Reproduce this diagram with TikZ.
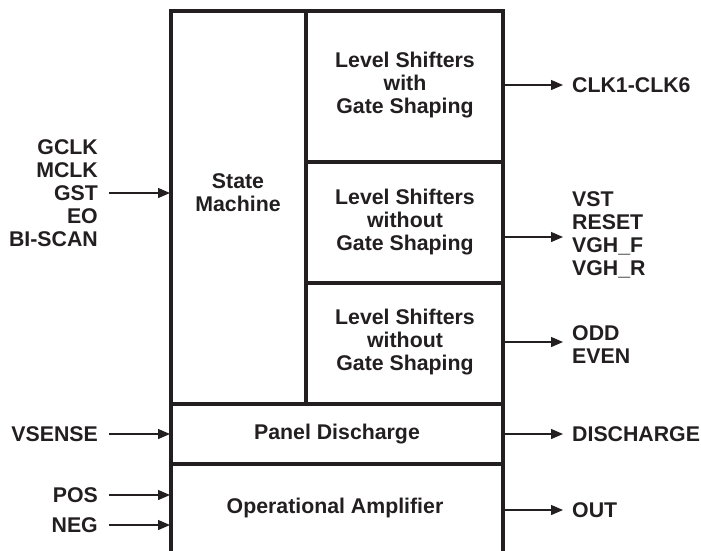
\documentclass[tikz,border=0pt]{standalone}
\usepackage{fontspec}
\setmainfont{Liberation Sans}
\usetikzlibrary{arrows.meta}
\definecolor{ink}{HTML}{231F20}
\tikzset{
  frame/.style={draw=ink, line width=4pt},
  arr/.style={draw=ink, line width=1.3pt, -{Triangle[length=12pt,width=10pt]}},
  txt/.style={inner sep=0pt, text=ink, font=\fontsize{21.3}{23}\selectfont\bfseries},
}
\begin{document}
\begin{tikzpicture}[x=1pt,y=-1pt]
\useasboundingbox (0,0) rectangle (701,550);
% frame
\draw[frame] (171,556) -- (171,11) -- (503,11) -- (503,556);
\draw[frame] (306,11) -- (306,404);
\draw[frame] (306,162) -- (503,162);
\draw[frame] (306,283) -- (503,283);
\draw[frame] (171,404) -- (503,404);
\draw[frame] (171,464) -- (503,464);
% block texts
\node[txt, align=center] (sm) at (238,193) {State\\Machine};
\node[txt, align=center] (ls1) at (405,85) {Level Shifters\\with\\Gate Shaping};
\node[txt, align=center] (ls2) at (405,222) {Level Shifters\\without\\Gate Shaping};
\node[txt, align=center] (ls3) at (405,342) {Level Shifters\\without\\Gate Shaping};
\node[txt] (pd) at (337,434) {Panel Discharge};
\node[txt] (oa) at (335,508) {Operational Amplifier};
% left labels
\node[txt, align=right, anchor=east] (inp) at (98,193) {GCLK\\MCLK\\GST\\EO\\BI-SCAN};
\node[txt, anchor=east] (vs) at (98,434) {VSENSE};
\node[txt, anchor=east] (pos) at (98,495) {POS};
\node[txt, anchor=east] (neg) at (98,525) {NEG};
% right labels
\node[txt, anchor=west] (clk) at (572,85) {CLK1-CLK6};
\node[txt, align=left, anchor=west] (vst) at (572,235) {VST\\RESET\\VGH\_F\\VGH\_R};
\node[txt, align=left, anchor=west] (odd) at (572,345) {ODD\\EVEN};
\node[txt, anchor=west] (dis) at (572,434) {DISCHARGE};
\node[txt, anchor=west] (out) at (572,510) {OUT};
% connector end points
\coordinate (smin) at (170,193);
\coordinate (pdin) at (170,434);
\coordinate (oain1) at (170,495);
\coordinate (oain2) at (170,525);
\coordinate (ls1o) at (503,85);
\coordinate (ls2o) at (503,237);
\coordinate (ls3o) at (503,342);
\coordinate (pdo) at (503,434);
\coordinate (oao) at (503,510);
% input arrows
\draw[arr] ([xshift=11pt]inp.east |- smin) -- (smin);
\draw[arr] ([xshift=11pt]vs.east) -- (pdin);
\draw[arr] ([xshift=11pt]pos.east) -- (oain1);
\draw[arr] ([xshift=11pt]neg.east) -- (oain2);
% output arrows
\draw[arr] (ls1o) -- ([xshift=-9pt]clk.west);
\draw[arr] (ls2o) -- ([xshift=-9pt]vst.west |- ls2o);
\draw[arr] (ls3o) -- ([xshift=-9pt]odd.west |- ls3o);
\draw[arr] (pdo) -- ([xshift=-9pt]dis.west);
\draw[arr] (oao) -- ([xshift=-9pt]out.west);
\end{tikzpicture}
\end{document}
